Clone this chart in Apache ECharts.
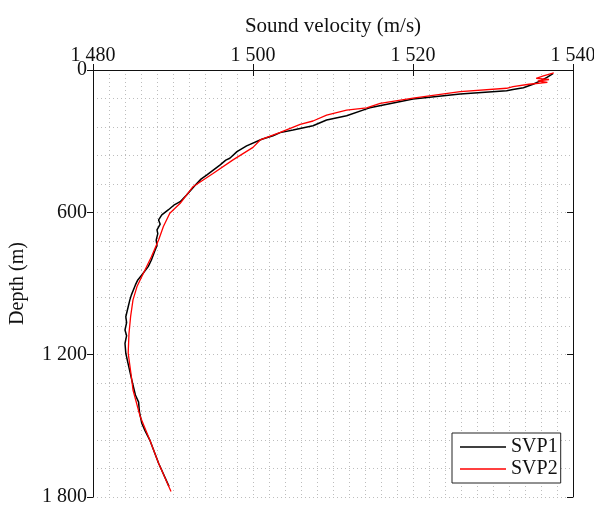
<!DOCTYPE html>
<html>
<head>
<meta charset="utf-8">
<script src="https://cdn.jsdelivr.net/npm/echarts@6/dist/echarts.min.js"></script>
<style>
  html, body { margin: 0; padding: 0; background: #fff; }
  #chart { width: 594px; height: 505px; }
</style>
</head>
<body>
<div id="chart"></div>
<script>
// sound velocity profiles, [velocity m/s, depth m]
const svp1 = [
  [1537.5, 15], [1536.8, 30], [1536.0, 45], [1535.0, 60], [1533.8, 75],
  [1532.5, 82], [1531.7, 87], [1525.9, 101], [1520.0, 122], [1514.6, 159],
  [1514.2, 164], [1511.7, 193], [1509.2, 211], [1507.5, 235], [1505.0, 253],
  [1503.4, 264], [1502.5, 277], [1501.1, 292], [1499.2, 320], [1498.0, 344],
  [1497.1, 372], [1496.6, 380], [1495.9, 400], [1494.2, 443], [1493.5, 460],
  [1492.8, 485], [1491.7, 527], [1490.9, 555], [1490.1, 570], [1489.4, 590],
  [1488.6, 611], [1488.2, 632], [1488.4, 650], [1488.0, 674], [1488.1, 690],
  [1487.9, 717], [1488.0, 740], [1487.7, 765], [1487.3, 801], [1486.9, 829],
  [1486.1, 864], [1485.6, 885], [1485.3, 906], [1484.8, 948], [1484.6, 970],
  [1484.4, 998], [1484.1, 1040], [1484.2, 1065], [1484.0, 1096], [1484.2, 1120],
  [1484.0, 1152], [1484.1, 1194], [1484.4, 1240], [1484.8, 1300], [1485.3, 1370],
  [1485.7, 1400], [1485.8, 1440], [1486.1, 1489], [1486.5, 1520], [1487.1, 1560],
  [1488.2, 1658], [1489.5, 1755]
];
const svp2 = [
  [1537.6, 12], [1536.3, 25], [1535.4, 35], [1537.0, 40], [1535.6, 46],
  [1536.8, 52], [1534.5, 60], [1532.5, 70], [1531.7, 77], [1525.9, 91],
  [1520.0, 119], [1515.9, 141], [1514.2, 160], [1511.7, 169], [1509.2, 190],
  [1507.5, 215], [1505.9, 229], [1503.4, 263], [1500.9, 295], [1500.0, 326],
  [1497.5, 379], [1495.0, 436], [1492.5, 492], [1490.9, 562], [1489.6, 604],
  [1488.8, 660], [1488.2, 717], [1487.3, 787], [1486.3, 857], [1485.5, 913],
  [1485.0, 969], [1484.7, 1040], [1484.5, 1110], [1484.4, 1194], [1484.8, 1293],
  [1485.0, 1349], [1485.9, 1461], [1487.1, 1560], [1488.2, 1658], [1489.75, 1777]
];
const seriesNames = ["SVP1", "SVP2"];
const seriesColors = ["#000000", "#ff0000"];

const font = "'Liberation Serif', 'DejaVu Serif', serif";
const withSpace = (v) => {
  const s = String(v);
  return s.length > 3 ? s.slice(0, s.length - 3) + " " + s.slice(-3) : s;
};
const gridDots = { show: true, lineStyle: { color: "#bdbdbd", type: [1, 3], width: 1 } };

const chart = echarts.init(document.getElementById("chart"));

chart.setOption({
  animation: false,
  backgroundColor: "#fff",
  grid: { left: 93, top: 70, width: 480, height: 427, outerBoundsMode: "none", containLabel: false },
  xAxis: [
    {
      type: "value",
      position: "top",
      min: 1480,
      max: 1540,
      interval: 20,
      name: "Sound velocity (m/s)",
      nameLocation: "middle",
      nameGap: 33,
      nameTextStyle: { fontFamily: font, fontSize: 21, color: "#111" },
      axisLine: { show: true, lineStyle: { color: "#111" } },
      axisTick: { show: true, inside: true, length: 6, lineStyle: { color: "#111" } },
      axisLabel: { fontFamily: font, fontSize: 20, color: "#111", margin: 4, formatter: withSpace },
      splitLine: gridDots,
      minorTick: { show: false, splitNumber: 10 },
      minorSplitLine: gridDots,
    },
    {
      type: "value",
      position: "bottom",
      min: 1480,
      max: 1540,
      interval: 20,
      axisLine: { show: true, lineStyle: { color: "#111" } },
      axisTick: { show: true, inside: true, length: 6, lineStyle: { color: "#111" } },
      axisLabel: { show: false },
      splitLine: { show: false },
    },
  ],
  yAxis: [
    {
      type: "value",
      inverse: true,
      min: 0,
      max: 1800,
      interval: 600,
      name: "Depth (m)",
      nameLocation: "middle",
      nameRotate: 90,
      nameGap: 65,
      nameTextStyle: { fontFamily: font, fontSize: 20, color: "#111" },
      axisLine: { show: true, lineStyle: { color: "#111" } },
      axisTick: { show: true, inside: false, length: 6, lineStyle: { color: "#111" } },
      axisLabel: { fontFamily: font, fontSize: 20, color: "#111", margin: 6, formatter: withSpace },
      splitLine: gridDots,
      minorTick: { show: false, splitNumber: 5 },
      minorSplitLine: gridDots,
    },
    {
      type: "value",
      position: "right",
      inverse: true,
      min: 0,
      max: 1800,
      interval: 600,
      axisLine: { show: true, lineStyle: { color: "#111" } },
      axisTick: { show: true, inside: true, length: 6, lineStyle: { color: "#111" } },
      axisLabel: { show: false },
      splitLine: { show: false },
    },
  ],
  legend: {
    orient: "vertical",
    left: 452,
    top: 433,
    backgroundColor: "#fff",
    borderColor: "#222",
    borderWidth: 1,
    borderRadius: 0,
    padding: [4, 3, 4, 8],
    itemGap: 2,
    itemWidth: 46,
    itemHeight: 1.5,
    textStyle: { fontFamily: font, fontSize: 20, lineHeight: 20, color: "#111" },
    data: seriesNames.map((n) => ({ name: n, icon: "rect" })),
  },
  series: [
    {
      name: seriesNames[0],
      type: "line",
      data: svp1,
      showSymbol: false,
      lineStyle: { color: seriesColors[0], width: 1.5 },
      itemStyle: { color: seriesColors[0] },
      z: 2,
    },
    {
      name: seriesNames[1],
      type: "line",
      data: svp2,
      showSymbol: false,
      lineStyle: { color: seriesColors[1], width: 1.3 },
      itemStyle: { color: seriesColors[1] },
      z: 3,
    },
  ],
});

window.addEventListener("resize", () => chart.resize());
</script>
</body>
</html>
